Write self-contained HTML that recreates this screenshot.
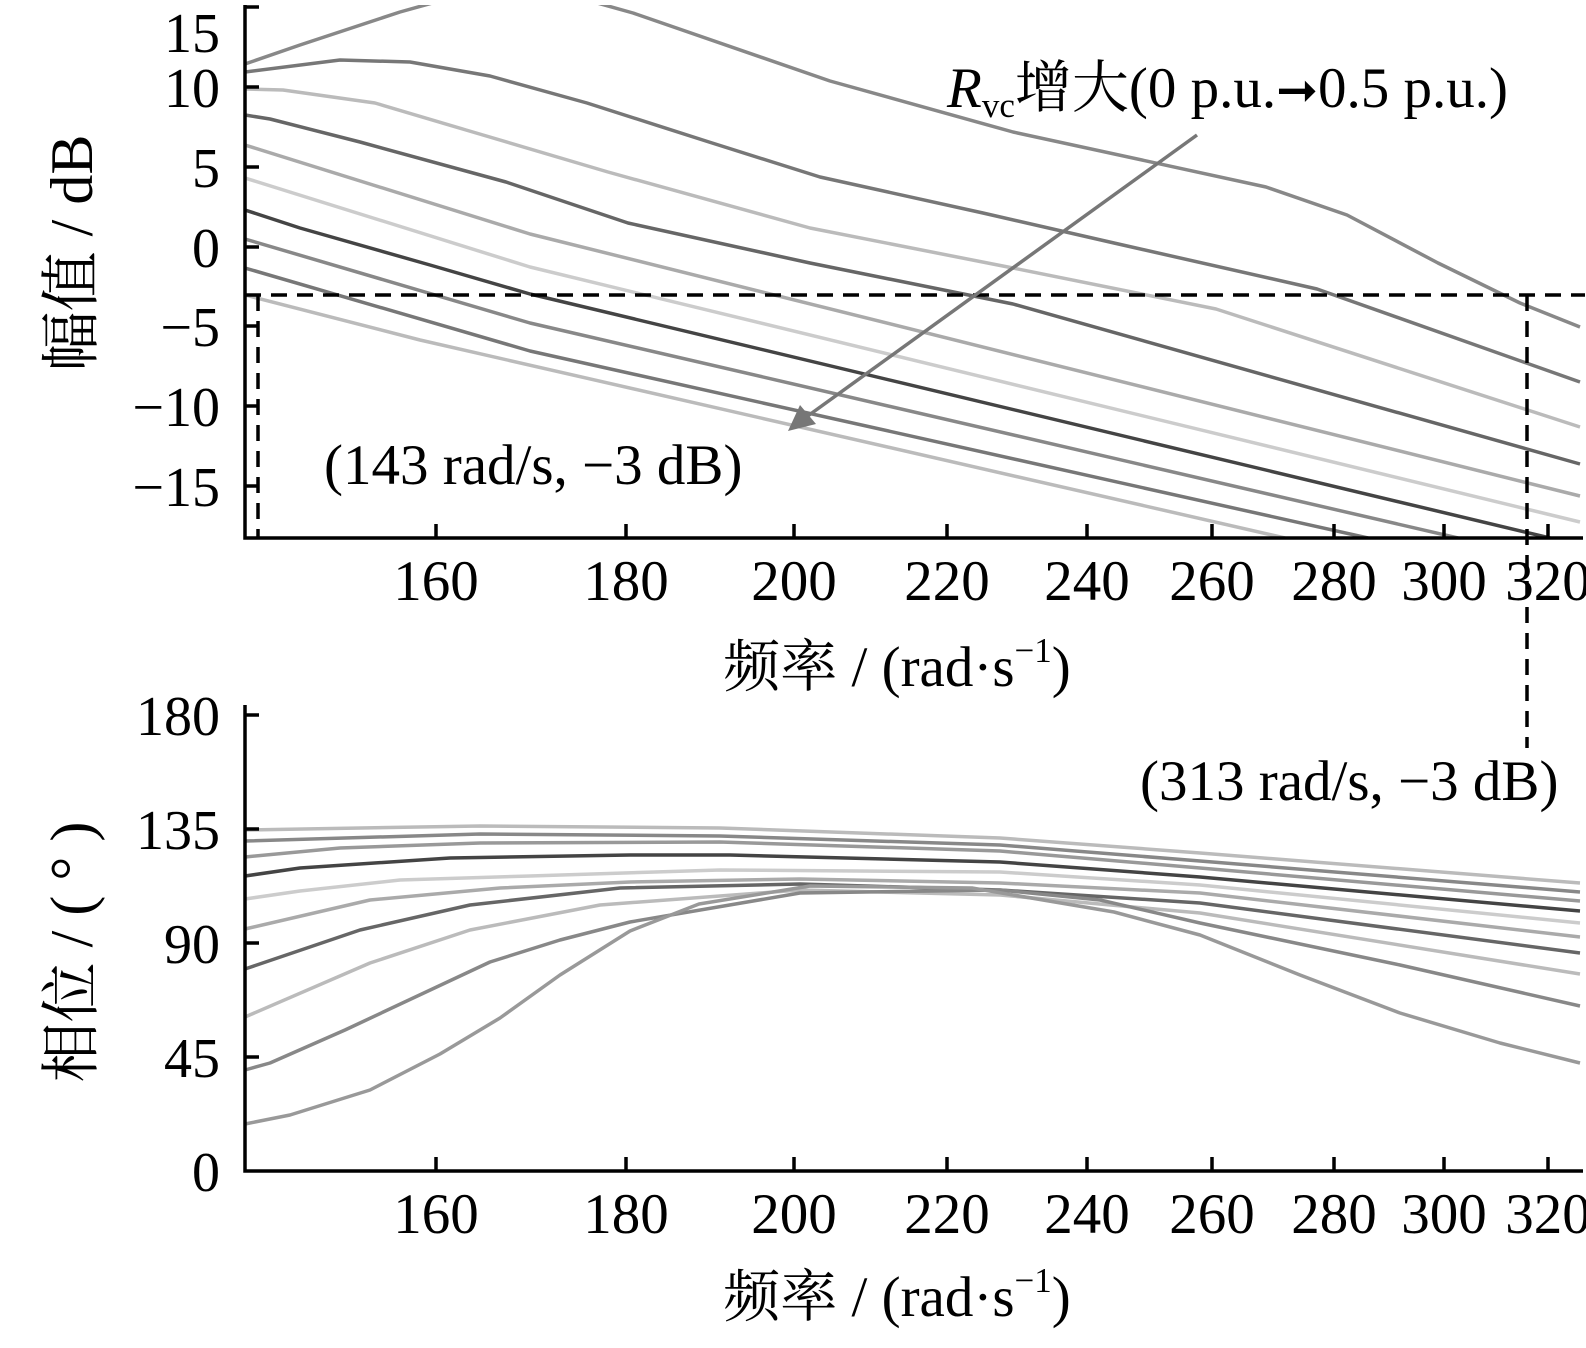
<!DOCTYPE html>
<html><head><meta charset="utf-8"><style>
html,body{margin:0;padding:0;background:#fff}
svg{display:block}
text{font-family:"Liberation Serif","Noto Serif CJK SC","Noto Sans CJK SC",serif;fill:#000}
</style></head><body>
<svg width="1586" height="1348" viewBox="0 0 1586 1348" xmlns="http://www.w3.org/2000/svg">
<defs>
<clipPath id="ct"><rect x="245" y="5" width="1340" height="533"/></clipPath>
</defs>
<g fill="none" stroke-width="3.5" stroke-linejoin="round" clip-path="url(#ct)">
<polyline stroke="#888" points="245,64 300,45 400,12 515,-20 633,13 830,81 1013,132 1266,187 1347,215 1438,263 1520,303 1580,327"/>
<polyline stroke="#777" points="245,72 340,60 410,62 490,76 587,103 709,142 820,177 983,213 1114,243 1317,289 1580,382"/>
<polyline stroke="#bbb" points="245,89 283,90 375,103 466,130 608,172 810,228 1013,268 1216,309 1580,427"/>
<polyline stroke="#666" points="245,115 270,119 360,142 506,182 628,223 810,263 1013,304 1580,464"/>
<polyline stroke="#aaa" points="245,145 530,234 1580,496"/>
<polyline stroke="#ccc" points="245,178 530,267 1580,522"/>
<polyline stroke="#444" points="245,210 300,228 430,265 530,294 1550,538"/>
<polyline stroke="#888" points="245,239 530,323 1458,538"/>
<polyline stroke="#777" points="245,268 530,351 1368,538"/>
<polyline stroke="#bbb" points="245,295 420,340 1285,538"/>
</g>
<g fill="none" stroke-width="3.5" stroke-linejoin="round">
<polyline stroke="#bbb" points="245,830 480,826 720,828 1000,838 1200,853 1580,883"/>
<polyline stroke="#888" points="245,841 480,834 720,836 1000,845 1200,861 1580,892"/>
<polyline stroke="#999" points="245,857 340,848 480,843 720,842 1000,851 1200,868 1580,901"/>
<polyline stroke="#444" points="245,876 300,868 450,858 630,855 730,855 1000,862 1200,877 1580,911"/>
<polyline stroke="#ccc" points="245,899 300,891 400,880 530,876 720,870 1000,872 1200,885 1580,923"/>
<polyline stroke="#aaa" points="245,929 370,900 500,888 630,882 800,879 1000,883 1200,893 1580,937"/>
<polyline stroke="#666" points="245,969 360,930 470,905 620,888 800,884 1000,890 1200,903 1580,953"/>
<polyline stroke="#bbb" points="245,1017 370,963 470,930 600,905 800,890 1000,895 1200,913 1580,974"/>
<polyline stroke="#888" points="245,1070 270,1063 345,1030 490,962 560,940 630,922 800,893 1000,890 1100,900 1200,923 1400,965 1580,1006"/>
<polyline stroke="#999" points="245,1124 290,1115 370,1090 440,1054 500,1018 560,975 630,931 699,904 810,886 972,888 1114,912 1200,935 1300,975 1400,1013 1500,1043 1580,1063"/>
</g>
<g stroke="#000" stroke-width="3.5" fill="none">
<polyline points="245,5 245,538 1583,538"/>
<polyline points="245,705 245,1171 1583,1171"/>
<path d="M245,7h14M245,87h14M245,167h14M245,247h14M245,326h14M245,406h14M245,486h14"/>
<path d="M436,538v-14M626,538v-14M794,538v-14M947,538v-14M1087,538v-14M1212,538v-14M1334,538v-14M1444,538v-14M1548,538v-14"/>
<path d="M245,715h14M245,829h14M245,943h14M245,1057h14"/>
<path d="M436,1171v-14M626,1171v-14M794,1171v-14M947,1171v-14M1087,1171v-14M1212,1171v-14M1334,1171v-14M1444,1171v-14M1548,1171v-14"/>
</g>
<g stroke="#000" stroke-width="3.5" stroke-dasharray="16,10" fill="none">
<path d="M245,295H1585"/>
<path d="M258,295V538"/>
<path d="M1527,295V748"/>
</g>
<line x1="1197" y1="135" x2="805" y2="418" stroke="#777" stroke-width="3.5"/>
<polygon points="788,431 800,405 816,424" fill="#777"/>
<g font-size="56" text-anchor="end">
<text x="220" y="52">15</text>
<text x="220" y="107">10</text>
<text x="220" y="187">5</text>
<text x="220" y="267">0</text>
<text x="220" y="346">−5</text>
<text x="220" y="426">−10</text>
<text x="220" y="506">−15</text>
<text x="220" y="735">180</text>
<text x="220" y="849">135</text>
<text x="220" y="963">90</text>
<text x="220" y="1077">45</text>
<text x="220" y="1191">0</text>
</g>
<g font-size="57" text-anchor="middle">
<text x="436" y="600">160</text><text x="626" y="600">180</text><text x="794" y="600">200</text><text x="947" y="600">220</text><text x="1087" y="600">240</text><text x="1212" y="600">260</text><text x="1334" y="600">280</text><text x="1444" y="600">300</text><text x="1548" y="600">320</text>
<text x="436" y="1233">160</text><text x="626" y="1233">180</text><text x="794" y="1233">200</text><text x="947" y="1233">220</text><text x="1087" y="1233">240</text><text x="1212" y="1233">260</text><text x="1334" y="1233">280</text><text x="1444" y="1233">300</text><text x="1548" y="1233">320</text>
</g>
<g font-size="57" text-anchor="middle">
<text x="897" y="686">频率 / (rad·s<tspan font-size="35" dy="-24">−1</tspan><tspan dy="24">)</tspan></text>
<text x="897" y="1316">频率 / (rad·s<tspan font-size="35" dy="-24">−1</tspan><tspan dy="24">)</tspan></text>
<text font-size="60" transform="translate(92,253) rotate(-90)">幅值 / dB</text>
<text font-size="60" transform="translate(92,952) rotate(-90)">相位 / ( ° )</text>
</g>
<g font-size="57">
<text x="324" y="484">(143 rad/s, −3 dB)</text>
<text x="1140" y="800">(313 rad/s, −3 dB)</text>
<text x="947" y="107"><tspan font-style="italic">R</tspan><tspan font-size="35" dy="10">vc</tspan><tspan dy="-10">增大(0 p.u.</tspan><tspan font-family="DejaVu Sans" font-size="50">➞</tspan><tspan>0.5 p.u.)</tspan></text>
</g>
</svg>
</body></html>
